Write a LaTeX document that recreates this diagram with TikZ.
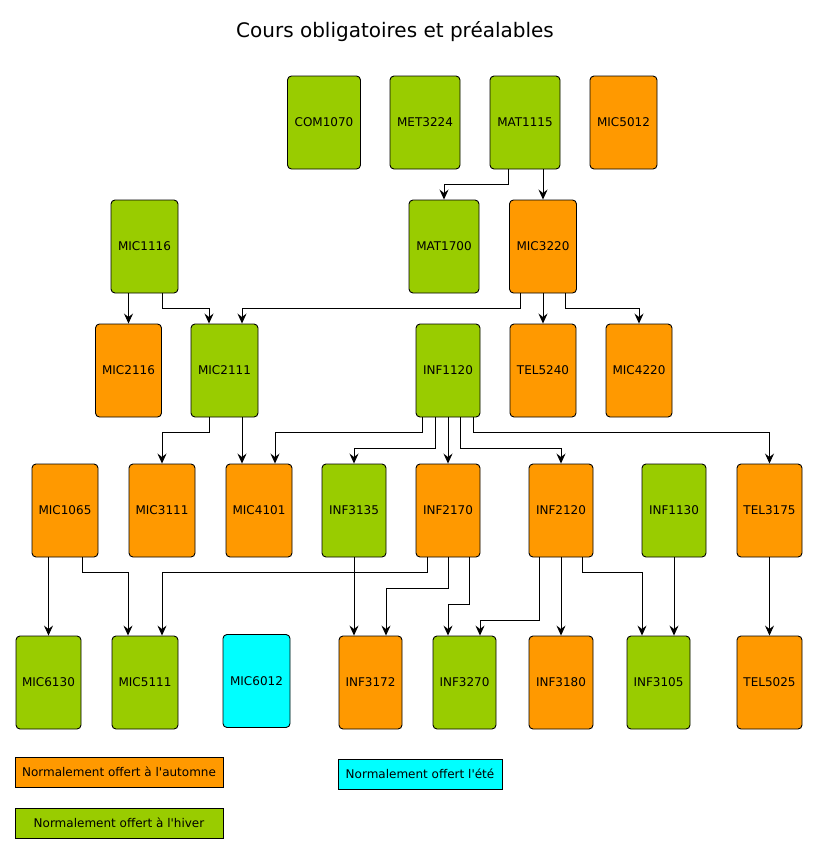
\documentclass[tikz,border=0pt]{standalone}
\usepackage{fontspec}
\setmainfont{DejaVu Sans}[Ligatures=TeXOff]
\usetikzlibrary{arrows.meta}
\definecolor{automne}{HTML}{FF9900}
\definecolor{hiver}{HTML}{99CC00}
\definecolor{ete}{HTML}{00FFFF}
\tikzset{
  cours/.style={draw, line width=0.9pt, rounded corners=4pt, inner sep=0pt,
    minimum width=66pt, minimum height=93pt, font=\fontsize{12}{14}\selectfont},
  coursA/.style={cours, fill=automne},
  coursH/.style={cours, fill=hiver},
  coursE/.style={cours, fill=ete},
  legende/.style={draw, line width=0.9pt, inner sep=0pt, minimum height=30pt,
    font=\fontsize{12}{14}\selectfont},
  prereq/.style={line width=0.9pt, -{Stealth[length=10pt, width=9pt, inset=3.5pt]}}
}
\begin{document}
\begin{tikzpicture}[x=1pt, y=-1pt]
\useasboundingbox (0,0) rectangle (818,854);
% titre
\node (titre) at (395,32) {\fontsize{20}{24}\selectfont Cours obligatoires et pr\'ealables};
% rangee 1
\node[coursH, minimum width=73pt] (com1070) at (324,122.5) {COM1070};
\node[coursH, minimum width=70pt] (met3224) at (425,122.5) {MET3224};
\node[coursH, minimum width=70pt] (mat1115) at (525,122.5) {MAT1115};
\node[coursA, minimum width=67pt] (mic5012) at (623.5,122.5) {MIC5012};
% rangee 2
\node[coursH, minimum width=67pt] (mic1116) at (144.5,246.5) {MIC1116};
\node[coursH, minimum width=70pt] (mat1700) at (444,246.5) {MAT1700};
\node[coursA, minimum width=67pt] (mic3220) at (543,246.5) {MIC3220};
% rangee 3
\node[coursA] (mic2116) at (128.5,370.5) {MIC2116};
\node[coursH, minimum width=67pt] (mic2111) at (224.5,370.5) {MIC2111};
\node[coursH, minimum width=64pt] (inf1120) at (448,370.5) {INF1120};
\node[coursA] (tel5240) at (543,370.5) {TEL5240};
\node[coursA] (mic4220) at (639,370.5) {MIC4220};
% rangee 4
\node[coursA] (mic1065) at (65,510.5) {MIC1065};
\node[coursA] (mic3111) at (162,510.5) {MIC3111};
\node[coursA] (mic4101) at (259,510.5) {MIC4101};
\node[coursH, minimum width=64pt] (inf3135) at (354,510.5) {INF3135};
\node[coursA, minimum width=64pt] (inf2170) at (448,510.5) {INF2170};
\node[coursA, minimum width=64pt] (inf2120) at (561,510.5) {INF2120};
\node[coursH, minimum width=64pt] (inf1130) at (674,510.5) {INF1130};
\node[coursA, minimum width=65pt] (tel3175) at (769.5,510.5) {TEL3175};
% rangee 5
\node[coursH, minimum width=65pt] (mic6130) at (48.5,682.5) {MIC6130};
\node[coursH] (mic5111) at (145,682.5) {MIC5111};
\node[coursE, minimum width=67pt] (mic6012) at (256.5,681) {MIC6012};
\node[coursA, minimum width=63pt] (inf3172) at (370.5,682.5) {INF3172};
\node[coursH, minimum width=63pt] (inf3270) at (464.5,682.5) {INF3270};
\node[coursA, minimum width=64pt] (inf3180) at (561,682.5) {INF3180};
\node[coursH, minimum width=63pt] (inf3105) at (658.5,682.5) {INF3105};
\node[coursA, minimum width=65pt] (tel5025) at (769.5,682.5) {TEL5025};
% legende
\node[legende, fill=automne, minimum width=208pt] (legA) at (119,772) {Normalement offert \`a l'automne};
\node[legende, fill=hiver, minimum width=208pt] (legH) at (119,823) {Normalement offert \`a l'hiver};
\node[legende, fill=ete, minimum width=164pt] (legE) at (420,774) {Normalement offert l'\'et\'e};
% prealables
\draw[prereq] ([xshift=-17pt]mat1115.south) -- ++(0,15) -| (mat1700.north);
\draw[prereq] ([xshift=18pt]mat1115.south) -- (mic3220.north);
\draw[prereq] ([xshift=-16pt]mic1116.south) -- (mic2116.north);
\draw[prereq] ([xshift=17.5pt]mic1116.south) -- ++(0,15) -| ([xshift=-15.5pt]mic2111.north);
\draw[prereq] ([xshift=-23pt]mic3220.south) -- ++(0,15) -| ([xshift=17.5pt]mic2111.north);
\draw[prereq] (mic3220.south) -- (tel5240.north);
\draw[prereq] ([xshift=22pt]mic3220.south) -- ++(0,15) -| (mic4220.north);
\draw[prereq] ([xshift=-15.5pt]mic2111.south) -- ++(0,15) -| (mic3111.north);
\draw[prereq] ([xshift=17.5pt]mic2111.south) -- ([xshift=-17pt]mic4101.north);
\draw[prereq] ([xshift=-26pt]inf1120.south) -- ++(0,15) -| ([xshift=16pt]mic4101.north);
\draw[prereq] ([xshift=-13pt]inf1120.south) -- ++(0,31) -| (inf3135.north);
\draw[prereq] (inf1120.south) -- (inf2170.north);
\draw[prereq] ([xshift=12pt]inf1120.south) -- ++(0,31) -| (inf2120.north);
\draw[prereq] ([xshift=25pt]inf1120.south) -- ++(0,15) -| (tel3175.north);
\draw[prereq] ([xshift=-16.5pt]mic1065.south) -- (mic6130.north);
\draw[prereq] ([xshift=17pt]mic1065.south) -- ++(0,15) -| ([xshift=-17pt]mic5111.north);
\draw[prereq] ([xshift=-21pt]inf2170.south) -- ++(0,15) -| ([xshift=17pt]mic5111.north);
\draw[prereq] (inf3135.south) -- ([xshift=-16.5pt]inf3172.north);
\draw[prereq] (inf2170.south) -- ++(0,31) -| ([xshift=15.5pt]inf3172.north);
\draw[prereq] ([xshift=21pt]inf2170.south) -- ++(0,47) -| ([xshift=-16.5pt]inf3270.north);
\draw[prereq] ([xshift=-22pt]inf2120.south) -- ++(0,63) -| ([xshift=15.5pt]inf3270.north);
\draw[prereq] (inf2120.south) -- (inf3180.north);
\draw[prereq] ([xshift=21pt]inf2120.south) -- ++(0,15) -| ([xshift=-16.5pt]inf3105.north);
\draw[prereq] (inf1130.south) -- ([xshift=15.5pt]inf3105.north);
\draw[prereq] (tel3175.south) -- (tel5025.north);
\end{tikzpicture}
\end{document}
